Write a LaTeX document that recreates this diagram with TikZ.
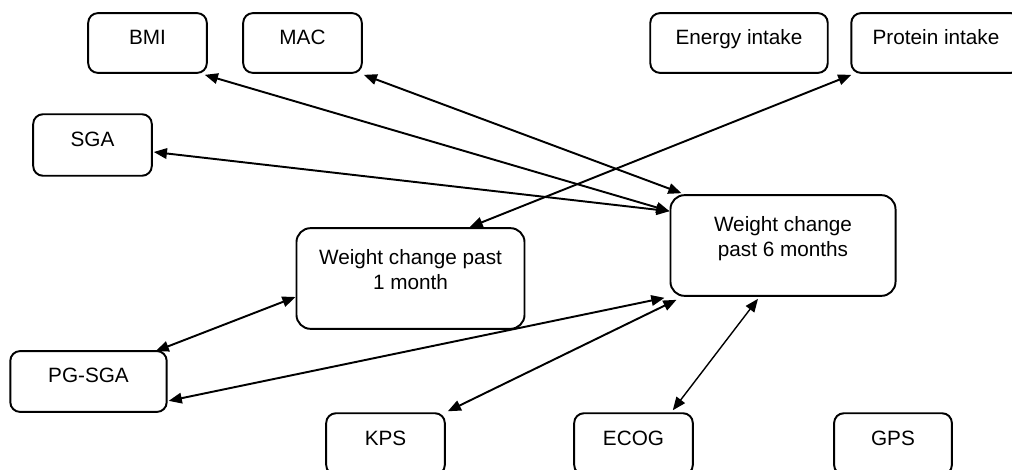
\documentclass[tikz,border=0pt]{standalone}
\usepackage{fontspec}
\setmainfont{Liberation Sans}
\usetikzlibrary{arrows.meta,calc}
\begin{document}
\begin{tikzpicture}[x=0.02cm,y=-0.02cm,
  box/.style={draw, line width=1.1pt, rounded corners=5.5pt, inner sep=0pt,
    font=\fontsize{11.8pt}{14.17pt}\selectfont, align=center,
    text height=8.6pt, text depth=7.1pt},
  smallbox/.style={box, minimum height=34pt},
  bigbox/.style={box, rounded corners=8pt, minimum height=57.3pt, text height=12.5pt, text depth=0pt},
  link/.style={>={Triangle[length=7.5pt,width=6pt]}, <->, line width=1.1pt},
  thinlink/.style={link, line width=0.8pt}]
\useasboundingbox (0,0) rectangle (1012,470);
\node[smallbox, minimum width=67.5pt] (bmi) at (147.5,43) {BMI};
\node[smallbox, minimum width=67.5pt] (mac) at (302.5,43) {MAC};
\node[smallbox, minimum width=101pt] (energy) at (739,43) {Energy intake};
\node[smallbox, minimum width=96.4pt] (protein) at (936,43) {Protein intake};
\node[smallbox, minimum width=67.5pt, minimum height=35pt] (sga) at (92.5,145) {SGA};
\node[bigbox, minimum width=129.8pt] (w1) at (410.5,278.5) {Weight change past\\1 month};
\node[bigbox, minimum width=128.1pt] (w6) at (783,245.5) {Weight change\\past 6 months};
\node[smallbox, minimum width=89pt, minimum height=34.6pt] (pgsga) at (88.5,381.5) {PG-SGA};
\node[smallbox, minimum width=67.5pt, minimum height=35pt] (kps) at (385.5,444) {KPS};
\node[smallbox, minimum width=67.5pt, minimum height=35pt] (ecog) at (633.5,444) {ECOG};
\node[smallbox, minimum width=67pt, minimum height=35pt] (gps) at (893,444) {GPS};

\draw[link] ($(bmi.south east)+(-3,1)$) -- ($(w6.north west)+(0,17)$);
\draw[link] ($(mac.south east)+(1,1)$) -- ($(w6.north west)+(12,-1)$);
\draw[link] ($(sga.east)+(1,7)$) -- ($(w6.north west)+(0,17)$);
\draw[link] ($(protein.south west)+(1,1)$) -- ($(w1.north)+(59,0)$);
\draw[link] ($(w1.west)+(0,18.5)$) -- ($(pgsga.north east)+(-12,1)$);
\draw[link] ($(pgsga.south east)+(1,-12)$) -- ($(w6.south west)+(-5,1)$);
\draw[link] ($(kps.north east)+(2,-1)$) -- ($(w6.south west)+(7,3)$);
\draw[thinlink] ($(ecog.north east)+(-21,-2)$) -- ($(w6.south)+(-25,2)$);
\end{tikzpicture}
\end{document}
